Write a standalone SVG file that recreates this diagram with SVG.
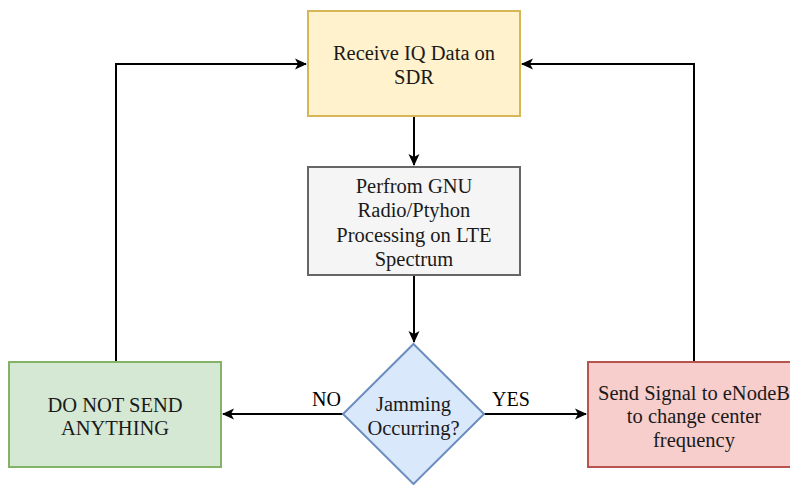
<svg xmlns="http://www.w3.org/2000/svg" width="790" height="485" viewBox="0 0 790 485">
  <defs>
    <marker id="arrow" viewBox="0 0 12 12" refX="11" refY="6" markerWidth="12" markerHeight="12" markerUnits="userSpaceOnUse" orient="auto">
      <path d="M0,0.5 L12,6 L0,11.5 L3,6 Z" fill="#000"/>
    </marker>
  </defs>
  <style>
    text { font-family: 'Liberation Serif', 'DejaVu Serif', serif; }
    .lbl { font-size: 20.5px; fill: #1a1a1a; text-anchor: middle; }
    .edge { fill: none; stroke: #000; stroke-width: 2; }
    .edgelbl { font-size: 20px; fill: #000; text-anchor: middle; }
  </style>
  <rect width="790" height="485" fill="#fff"/>

  <g id="connectors">
    <path class="edge" d="M414,116 L414,165" marker-end="url(#arrow)"/>
    <path class="edge" d="M414,275 L414,342" marker-end="url(#arrow)"/>
    <path class="edge" d="M343,414 L223,414" marker-end="url(#arrow)"/>
    <path class="edge" d="M484,414 L586,414" marker-end="url(#arrow)"/>
    <path class="edge" d="M116,362 L116,64 L306,64" marker-end="url(#arrow)"/>
    <path class="edge" d="M694,362 L694,64 L522,64" marker-end="url(#arrow)"/>
    <text class="edgelbl" x="326.5" y="406" font-family="Liberation Serif, serif">NO</text>
    <text class="edgelbl" x="511" y="406" font-family="Liberation Serif, serif">YES</text>
  </g>

  <g id="receive">
    <rect x="308" y="11" width="212" height="105" fill="#fff2cc" stroke="#d6b656" stroke-width="2"/>
    <text class="lbl"><tspan x="414" y="60">Receive IQ Data on</tspan><tspan x="414" y="84">SDR</tspan></text>
  </g>

  <g id="process">
    <rect x="308" y="167" width="212" height="108" fill="#f5f5f5" stroke="#666666" stroke-width="2"/>
    <text class="lbl"><tspan x="414" y="193">Perfrom GNU</tspan><tspan x="414" y="217">Radio/Ptyhon</tspan><tspan x="414" y="242">Processing on LTE</tspan><tspan x="414" y="266">Spectrum</tspan></text>
  </g>

  <g id="decision">
    <path d="M413.5,344 L484,414 L413.5,484 L343,414 Z" fill="#dae8fc" stroke="#6c8ebf" stroke-width="2"/>
    <text class="lbl"><tspan x="413.5" y="411">Jamming</tspan><tspan x="413.5" y="435">Occurring?</tspan></text>
  </g>

  <g id="no-send">
    <rect x="9" y="362" width="212" height="105" fill="#d5e8d4" stroke="#82b366" stroke-width="2"/>
    <text class="lbl"><tspan x="115" y="412">DO NOT SEND</tspan><tspan x="115" y="435">ANYTHING</tspan></text>
  </g>

  <g id="send-signal">
    <rect x="588" y="362" width="212" height="105" fill="#f8cecc" stroke="#b85450" stroke-width="2"/>
    <text class="lbl"><tspan x="694" y="400">Send Signal to eNodeB</tspan><tspan x="694" y="423">to change center</tspan><tspan x="694" y="447">frequency</tspan></text>
  </g>
</svg>
